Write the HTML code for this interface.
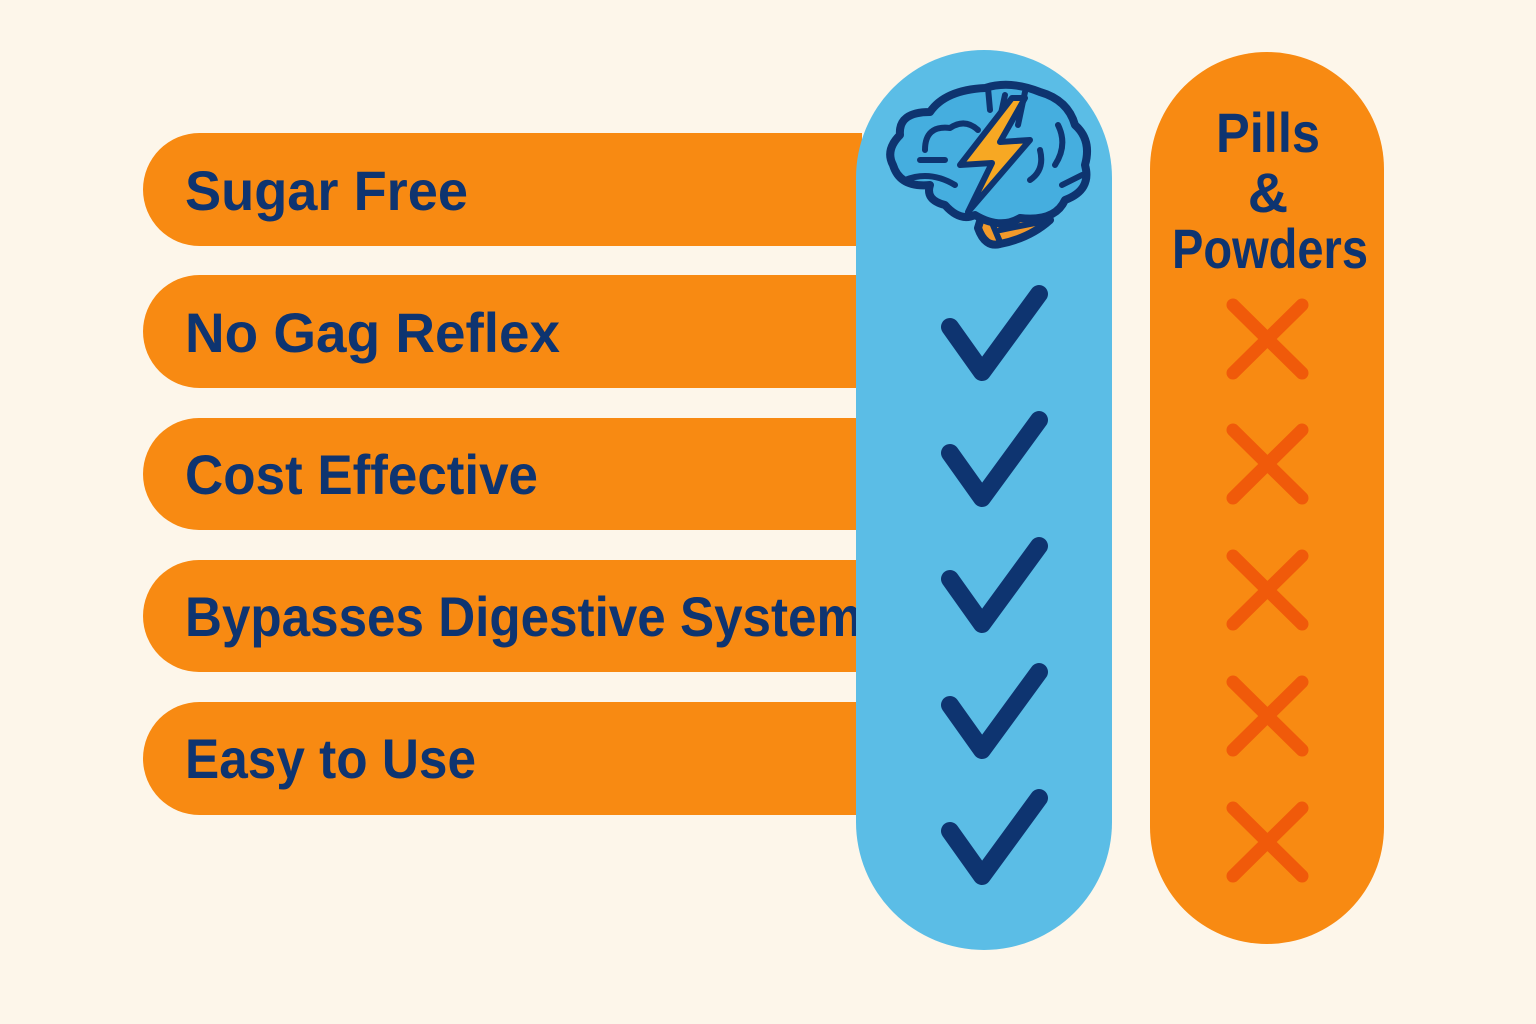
<!DOCTYPE html>
<html><head><meta charset="utf-8"><style>
html,body{margin:0;padding:0;background:#FDF6EA;}
svg{display:block}
text{font-family:"Liberation Sans",sans-serif;font-weight:bold;fill:#0E3470}
</style></head><body>
<svg width="1536" height="1024" viewBox="0 0 1536 1024">
<rect width="1536" height="1024" fill="#FDF6EA"/>
<g fill="#F88A12">
<path d="M199.5 133 H862 V246 H199.5 A56.5 56.5 0 0 1 199.5 133 Z"/>
<path d="M199.5 275 H862 V388 H199.5 A56.5 56.5 0 0 1 199.5 275 Z"/>
<path d="M199 418 H862 V530 H199 A56 56 0 0 1 199 418 Z"/>
<path d="M199 560 H862 V672 H199 A56 56 0 0 1 199 560 Z"/>
<path d="M199.5 702 H862 V815 H199.5 A56.5 56.5 0 0 1 199.5 702 Z"/>
</g>
<g font-size="56">
<text x="185" y="210" textLength="283" lengthAdjust="spacingAndGlyphs">Sugar Free</text>
<text x="185" y="352" textLength="375" lengthAdjust="spacingAndGlyphs">No Gag Reflex</text>
<text x="185" y="494" textLength="353" lengthAdjust="spacingAndGlyphs">Cost Effective</text>
<text x="185" y="636" textLength="677" lengthAdjust="spacingAndGlyphs">Bypasses Digestive System</text>
<text x="185" y="778" textLength="291" lengthAdjust="spacingAndGlyphs">Easy to Use</text>
</g>
<rect x="856" y="50" width="256" height="900" rx="128" fill="#5BBDE6"/>
<rect x="1150" y="52" width="234" height="892" rx="117" fill="#F88A12"/>
<g font-size="56" text-anchor="middle">
<text x="1268" y="152" textLength="104" lengthAdjust="spacingAndGlyphs">Pills</text>
<text x="1268" y="212">&amp;</text>
<text x="1270" y="268" textLength="196" lengthAdjust="spacingAndGlyphs">Powders</text>
</g>
<!-- brain -->
<g stroke="#0E3470" stroke-width="8" stroke-linecap="round" stroke-linejoin="round">
<path d="M985 205 L978 228 Q985 248 1000 244 Q1030 238 1050 220 L1040 200 Z" fill="#F39A2A"/>
<path d="M990 218 L1000 242 M1005 218 L1045 210 M1000 230 L1040 222" fill="none" stroke-width="6"/>
<path d="M930 112 Q945 90 985 88 Q1010 80 1040 92 Q1068 100 1075 125 Q1092 140 1085 165 Q1092 190 1065 200 Q1055 222 1020 218 Q1000 230 975 215 Q960 222 945 205 Q925 200 930 185 Q900 188 893 165 Q885 150 900 135 Q898 112 930 112 Z" fill="#45AEDF"/>
<path d="M988 88 L990 110 M1025 92 L1018 125 M1005 95 L1000 118 M925 150 Q925 125 950 128 Q965 118 978 130 M920 160 L945 160 M1058 125 Q1068 145 1055 165 M1062 185 L1082 175 M905 180 Q930 170 955 185 M1040 150 Q1045 170 1030 180" fill="none" stroke-width="6"/>
<path d="M1012 98 L960 165 L992 163 L968 212 L1030 140 L1000 142 L1025 98 Z" fill="#F7A823" stroke-width="6"/>
</g>
<!-- checks -->
<g stroke="#0E3470" stroke-width="18" stroke-linecap="round" stroke-linejoin="round" fill="none">
<path d="M950 327 L982 372 L1039 294"/>
<path d="M950 453 L982 498 L1039 420"/>
<path d="M950 579 L982 624 L1039 546"/>
<path d="M950 705 L982 750 L1039 672"/>
<path d="M950 831 L982 876 L1039 798"/>
</g>
<!-- crosses -->
<g stroke="#F05A0A" stroke-width="13" stroke-linecap="round" fill="none">
<path d="M1233 305 L1302 373 M1302 305 L1233 373"/>
<path d="M1233 430 L1302 498 M1302 430 L1233 498"/>
<path d="M1233 556 L1302 624 M1302 556 L1233 624"/>
<path d="M1233 682 L1302 750 M1302 682 L1233 750"/>
<path d="M1233 808 L1302 876 M1302 808 L1233 876"/>
</g>
</svg>
</body></html>
